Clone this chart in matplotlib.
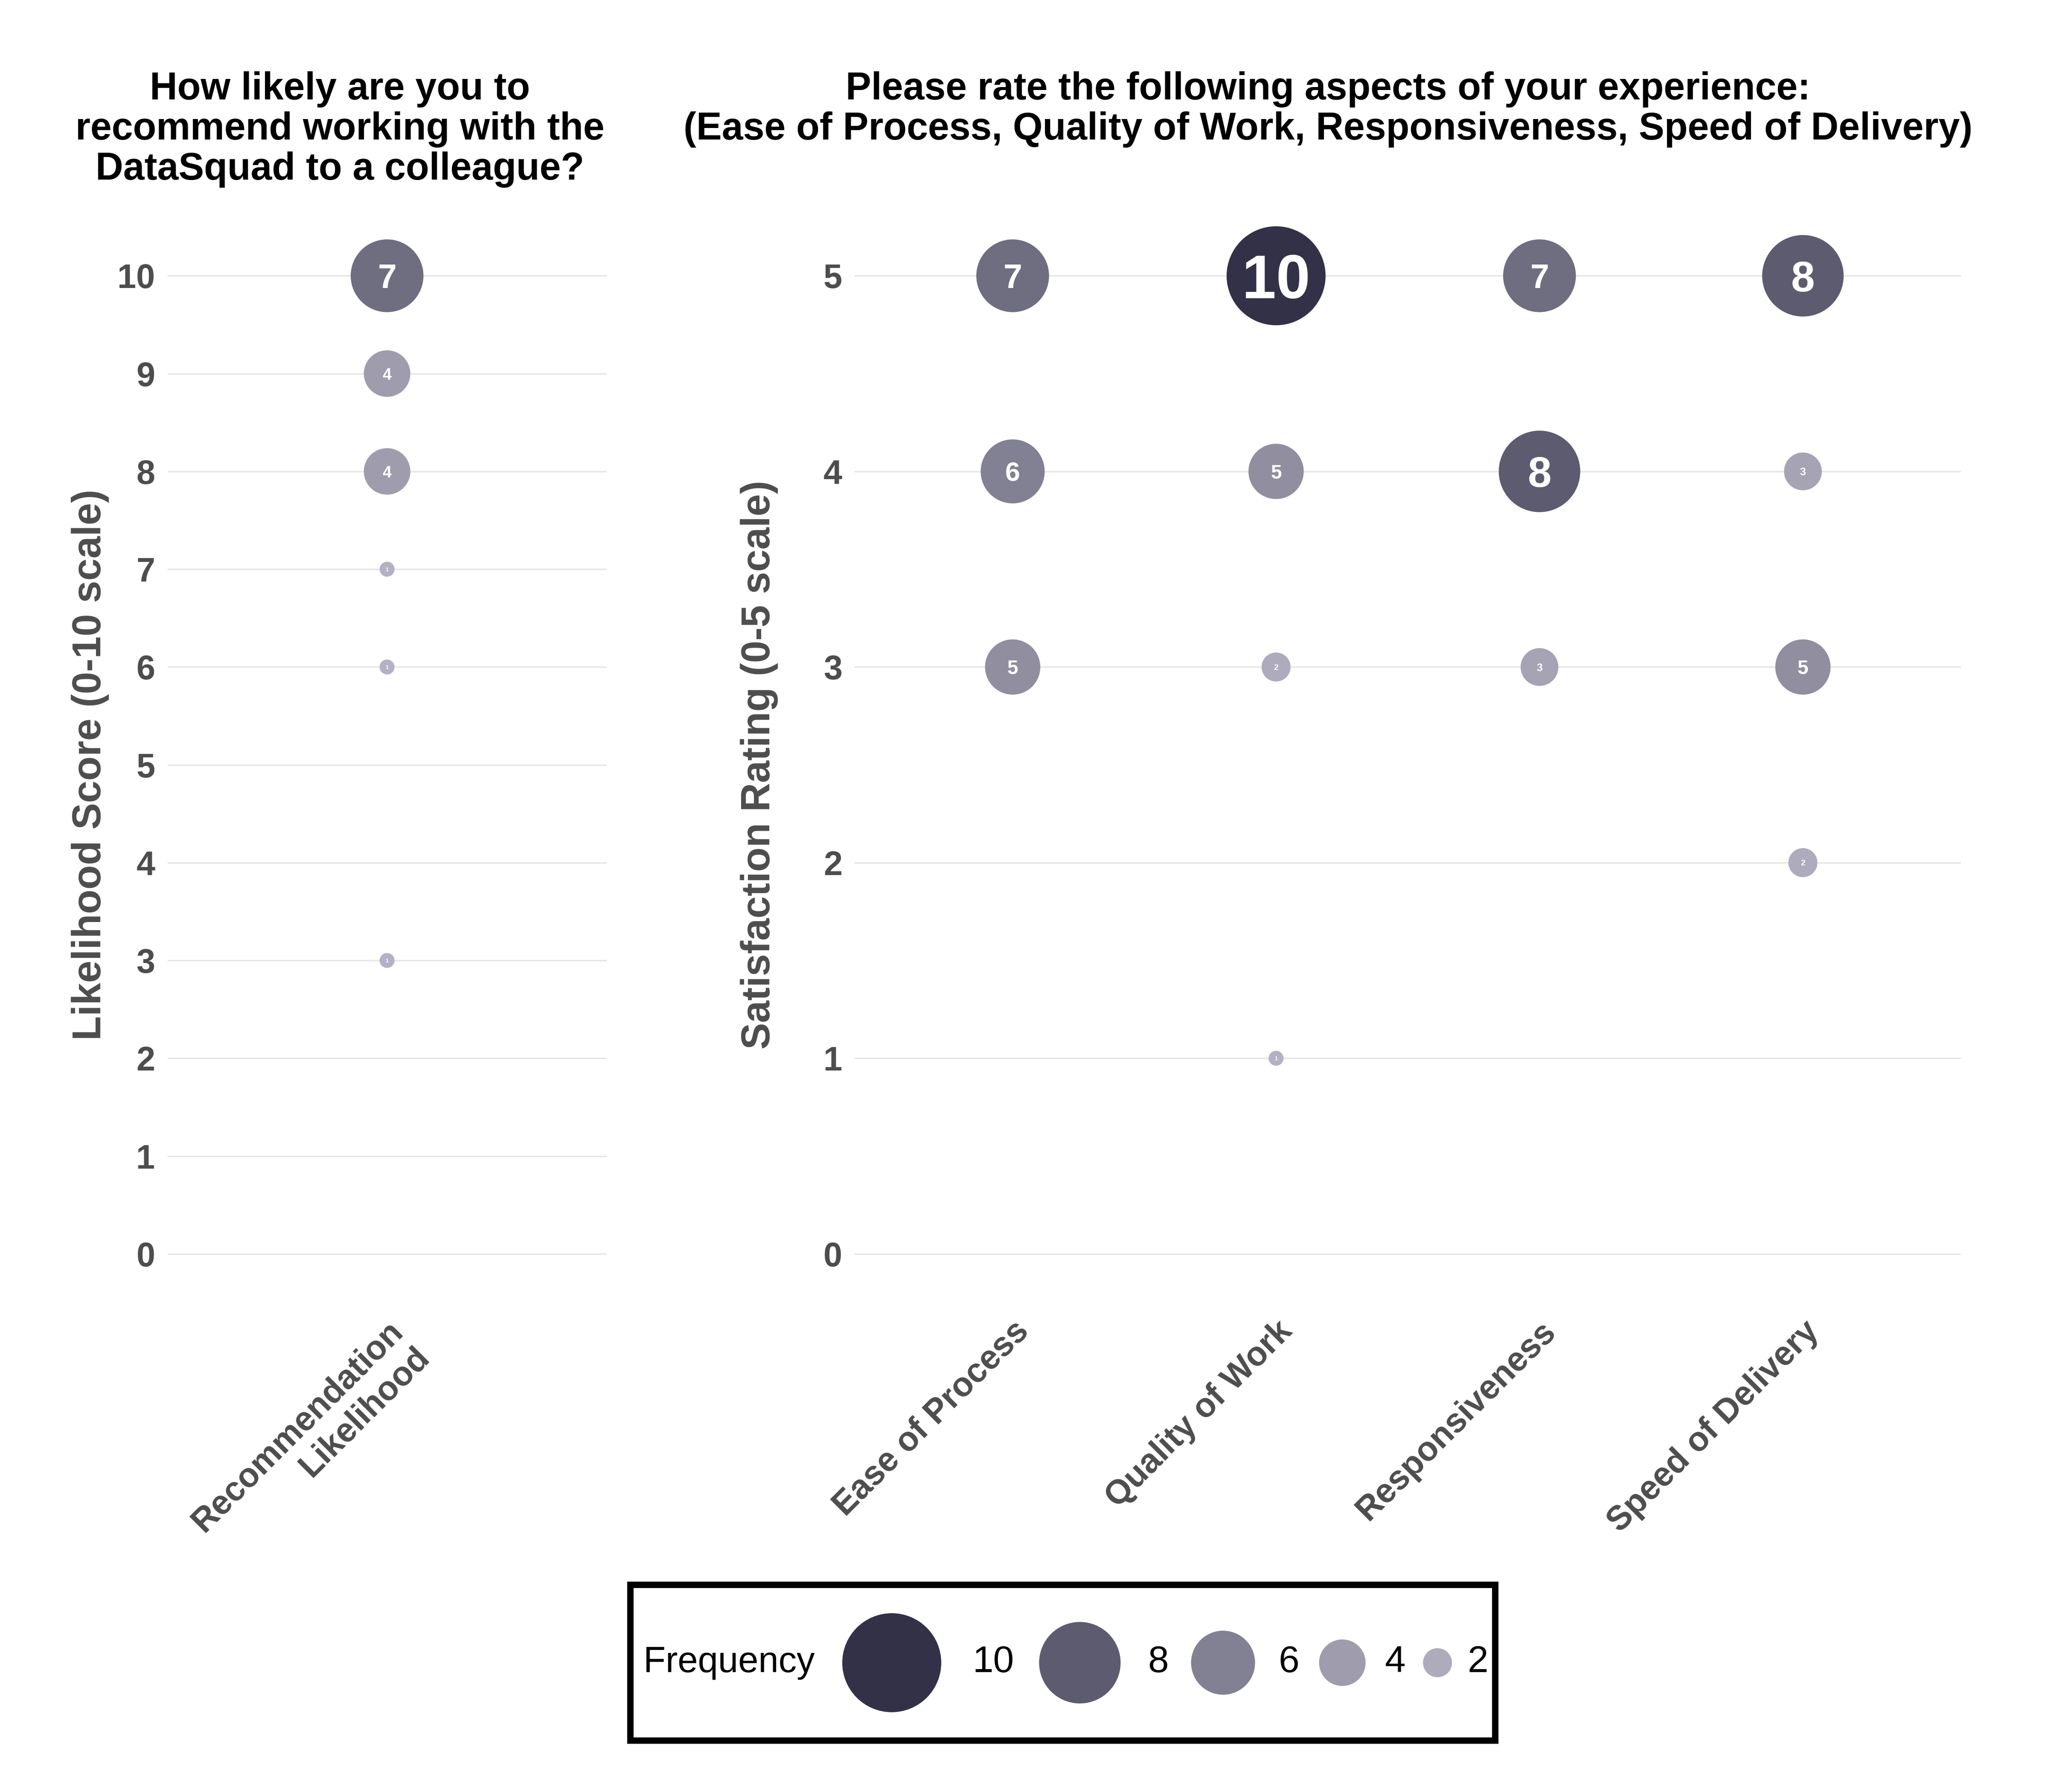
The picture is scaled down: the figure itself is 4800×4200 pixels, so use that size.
import numpy as np
import matplotlib
matplotlib.use("Agg")
import matplotlib.pyplot as plt
from matplotlib.colors import LinearSegmentedColormap
from matplotlib.patches import Rectangle

plt.rcParams['font.family'] = ['Liberation Sans', 'DejaVu Sans']

# --------------------------
# DATA
# --------------------------
rec_category = ["Recommendation\nLikelihood"]
rec_scores = [10, 9, 8, 7, 6, 3]
rec_counts = [7, 4, 4, 1, 1, 1]

aspects = ["Ease of Process", "Quality of Work", "Responsiveness", "Speed of Delivery"]
ease_ratings = [5, 4, 3]
ease_counts = [7, 6, 5]
quality_ratings = [5, 4, 3, 1]
quality_counts = [10, 5, 2, 1]
resp_ratings = [5, 4, 3]
resp_counts = [7, 8, 3]
speed_ratings = [5, 4, 3, 2]
speed_counts = [8, 3, 5, 2]

legend_values = [10, 8, 6, 4, 2]

left_title = "How likely are you to\nrecommend working with the\nDataSquad to a colleague?"
right_title = ("Please rate the following aspects of your experience:\n"
               "(Ease of Process, Quality of Work, Responsiveness, Speed of Delivery)")

# --------------------------
# STYLE / SCALES
# --------------------------
DPI = 300
GRAY = "#4d4d4d"
GRID = "#e5e5e5"

# fill scale (frequency 1 -> 10)
scale_counts = [1, 2, 3, 4, 5, 6, 7, 8, 10]
scale_colors = ["#b3b1c3", "#adabbc", "#a5a3b4", "#9f9dad", "#908e9f",
                "#828093", "#6f6d80", "#5d5b70", "#333147"]
cmap = LinearSegmentedColormap.from_list(
    "freq", [((c - 1) / 9, col) for c, col in zip(scale_counts, scale_colors)])


def fill_for(v):
    return cmap((np.asarray(v) - 1) / 9)


def diam_px(v):
    # bubble diameter in output pixels
    return np.interp(v, [1, 2, 10], [35, 68, 232])


def size_for(v):
    return (diam_px(v) * 72 / DPI) ** 2


def label_fs(v):
    # label text size grows with the count
    return np.interp(v, [1, 2, 3, 4, 5, 6, 7, 8, 10],
                     [3, 4.6, 6, 9, 11, 15, 19, 24, 34.5])


def bubbles(ax, x, ys, counts):
    xs = np.full(len(ys), x, dtype=float)
    ax.scatter(xs, ys, s=size_for(np.array(counts)), c=fill_for(counts),
               edgecolors="none", zorder=3, clip_on=False)
    for yy, n in zip(ys, counts):
        ax.text(x, yy, str(n), color="white", fontsize=label_fs(n),
                fontweight="bold", ha="center", va="center_baseline", zorder=4)


def style_axis(ax):
    for s in ax.spines.values():
        s.set_visible(False)
    ax.tick_params(length=0, labelsize=19, labelcolor=GRAY, pad=7)
    for lab in ax.get_yticklabels():
        lab.set_fontweight("bold")
    ax.grid(axis="y", color=GRID, linewidth=0.8)
    ax.grid(axis="x", visible=False)
    ax.set_axisbelow(True)


fig = plt.figure(figsize=(16, 14), dpi=DPI)

# --------------------------
# LEFT PANEL
# --------------------------
axL = fig.add_axes([0.0818, 0.273, 0.2144, 0.6004])
bubbles(axL, 0, rec_scores, rec_counts)
axL.set_xlim(-0.6, 0.6)
axL.set_ylim(-0.5, 10.5)
axL.set_yticks(range(0, 11))
axL.set_xticks([0])
axL.set_xticklabels(rec_category, rotation=45, ha="right", va="top",
                    rotation_mode="anchor", fontweight="bold", multialignment="right")
style_axis(axL)
axL.set_ylabel("Likelihood Score (0-10 scale)", fontsize=22.5, fontweight="bold", color=GRAY)
axL.yaxis.set_label_coords(-0.133, 0.5)

# --------------------------
# RIGHT PANEL
# --------------------------
axR = fig.add_axes([0.4173, 0.273, 0.5402, 0.6004])
aspect_ratings = [ease_ratings, quality_ratings, resp_ratings, speed_ratings]
aspect_counts = [ease_counts, quality_counts, resp_counts, speed_counts]
for i, (r, c) in enumerate(zip(aspect_ratings, aspect_counts)):
    bubbles(axR, i, r, c)
axR.set_xlim(-0.6, len(aspects) - 0.4)
axR.set_ylim(-0.25, 5.25)
axR.set_yticks(range(0, 6))
axR.set_xticks(range(len(aspects)))
axR.set_xticklabels(aspects, rotation=45, ha="right", va="top",
                    rotation_mode="anchor", fontweight="bold")
style_axis(axR)
axR.set_ylabel("Satisfaction Rating (0-5 scale)", fontsize=22.5, fontweight="bold", color=GRAY)
axR.yaxis.set_label_coords(-0.069, 0.5)

# titles
fig.text(0.166, 1 - 54 / 1359, left_title, ha="center", va="top",
         fontsize=21.5, fontweight="bold", linespacing=1.14)
fig.text(0.6484, 1 - 54 / 1359, right_title, ha="center", va="top",
         fontsize=21.5, fontweight="bold", linespacing=1.14)

# --------------------------
# LEGEND (manual, horizontal)
# --------------------------
box_w_px, box_h_px = 2027, 365
lax = fig.add_axes([0.3078, 0.0287, box_w_px / 4800, box_h_px / 4200])
lax.set_xlim(0, box_w_px)
lax.set_ylim(0, box_h_px)
lax.axis("off")
lax.add_patch(Rectangle((0, 0), 1, 1, transform=lax.transAxes, fill=False,
                        edgecolor="black", linewidth=3.6, clip_on=False))
renderer = fig.canvas.get_renderer()
cy = box_h_px / 2
cursor = 31
t = lax.text(cursor, cy, "Frequency", ha="left", va="center", fontsize=20.4)
cursor += t.get_window_extent(renderer).width + 64
for i, v in enumerate(legend_values):
    d = diam_px(v)
    lax.scatter([cursor + d / 2], [cy], s=size_for(v), c=[fill_for(v)],
                edgecolors="none", clip_on=False)
    cursor += d + 21 + 0.226 * d
    t = lax.text(cursor, cy, str(v), ha="left", va="center", fontsize=21)
    cursor += t.get_window_extent(renderer).width
    if i + 1 < len(legend_values):
        cursor += 30 + 0.15 * diam_px(legend_values[i + 1])

fig.savefig("out.png", dpi=DPI, facecolor="white")
